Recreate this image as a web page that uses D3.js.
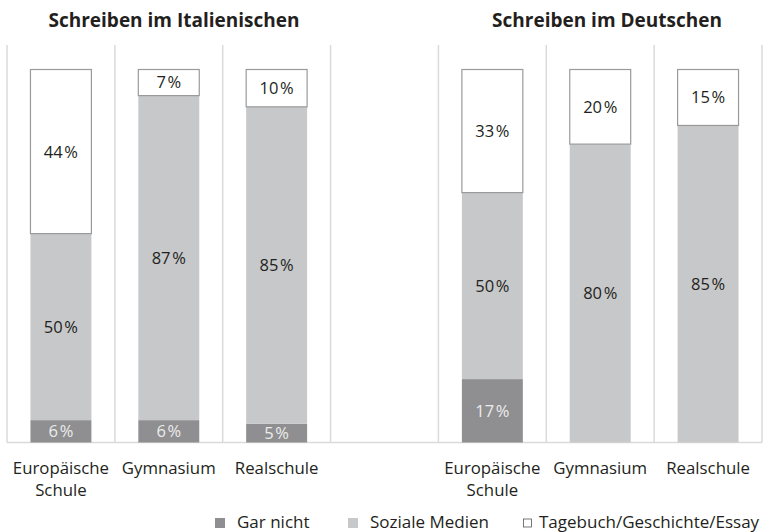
<!DOCTYPE html>
<html>
<head>
<meta charset="utf-8">
<script src="https://cdn.jsdelivr.net/npm/d3@7"></script>
<style>
  body { margin: 0; background: #fff; }
  text { font-family: "Open Sans", "Noto Sans", sans-serif; fill: #231f20; }
</style>
</head>
<body>
<svg id="chart" width="763" height="532"></svg>
<script>
/** data **/
var panels = ["Schreiben im Italienischen", "Schreiben im Deutschen"];
var schools = ["Europäische Schule", "Gymnasium", "Realschule"];
var series = ["Gar nicht", "Soziale Medien", "Tagebuch/Geschichte/Essay"];
// values per panel, per school: [gar nicht, soziale medien, tagebuch]
var italienisch = [[6, 50, 44], [6, 87, 7], [5, 85, 10]];
var deutsch = [[17, 50, 33], [0, 80, 20], [0, 85, 15]];

var colors = ["#8f8f91", "#c7c8ca", "#ffffff"];
var labelColors = ["#ececec", "#231f20", "#231f20"];

var svg = d3.select("#chart");

// 7 columns: 3 italian, gap, 3 german
var cols = ["it0", "it1", "it2", "gap", "de0", "de1", "de2"];
var x = d3.scaleBand().domain(cols).range([7, 762]).padding(0);
var y = d3.scaleLinear().domain([0, 100]).range([442.5, 69.5]);
var barW = x.bandwidth() * 0.565;

// build rows
var rows = [];
[italienisch, deutsch].forEach(function(p, pi) {
  p.forEach(function(v, si) {
    var col = (pi == 0 ? "it" : "de") + si;
    var acc = 0;
    v.forEach(function(val, k) {
      rows.push({col: col, k: k, y0: acc, y1: acc + val, v: val});
      acc += val;
    });
  });
});

// grid lines
svg.selectAll("line.grid")
  .data(x.domain().map(function(d) { return x(d); }).concat([762]))
  .enter().append("line")
  .attr("x1", function(d) { return d; })
  .attr("x2", function(d) { return d; })
  .attr("y1", 45).attr("y2", y(0))
  .attr("stroke", "#dadada").attr("stroke-width", 1.5);

svg.append("line")
  .attr("x1", 7).attr("x2", 762)
  .attr("y1", y(0)).attr("y2", y(0))
  .attr("stroke", "#dadada").attr("stroke-width", 1.5);

// bars
var segs = rows.filter(function(d) { return d.v > 0; });
svg.selectAll("rect.seg")
  .data(segs)
  .enter().append("rect")
  .attr("x", function(d) { return x(d.col) + (x.bandwidth() - barW) / 2; })
  .attr("y", function(d) { return y(d.y1); })
  .attr("width", barW)
  .attr("height", function(d) { return y(d.y0) - y(d.y1); })
  .attr("fill", function(d) { return colors[d.k]; })
  .attr("stroke", function(d) { return d.k == 2 ? "#9a9a9a" : "none"; })
  .attr("stroke-width", 1.2);

svg.selectAll("text.val")
  .data(segs)
  .enter().append("text")
  .attr("x", function(d) { return x(d.col) + x.bandwidth() / 2; })
  .attr("y", function(d) { return (y(d.y0) + y(d.y1)) / 2; })
  .attr("dy", "0.36em")
  .attr("text-anchor", "middle")
  .style("font-size", "16.5px")
  .style("fill", function(d) { return labelColors[d.k]; })
  .text(function(d) { return d.v + "\u200a%"; });

// titles
svg.selectAll("text.title")
  .data(panels)
  .enter().append("text")
  .attr("x", function(d, i) { return i == 0 ? 174 : 607; })
  .attr("y", 27)
  .attr("text-anchor", "middle")
  .style("font-size", "19px")
  .style("font-weight", "bold")
  .text(function(d) { return d; });

// category labels
["it", "de"].forEach(function(p) {
  schools.forEach(function(s, i) {
    var t = svg.append("text")
      .attr("x", x(p + i) + x.bandwidth() / 2)
      .attr("y", 474)
      .attr("text-anchor", "middle")
      .style("font-size", "16.8px");
    s.split(" ").forEach(function(w, j) {
      t.append("tspan")
        .attr("x", x(p + i) + x.bandwidth() / 2)
        .attr("dy", j == 0 ? 0 : 22)
        .text(w);
    });
  });
});

// legend
var legX = [215, 348, 523];
var leg = svg.selectAll("g.leg")
  .data(series)
  .enter().append("g")
  .attr("transform", function(d, i) { return "translate(" + legX[i] + ",518)"; });
leg.append("rect")
  .attr("x", function(d, i) { return i == 2 ? 0.5 : 0; })
  .attr("y", function(d, i) { return i == 2 ? 1 : 0; })
  .attr("width", function(d, i) { return i == 2 ? 8 : 10; })
  .attr("height", function(d, i) { return i == 2 ? 8 : 10; })
  .attr("fill", function(d, i) { return colors[i]; })
  .attr("stroke", function(d, i) { return i == 2 ? "#555" : "none"; })
  .attr("stroke-width", 0.8);
leg.append("text")
  .attr("x", function(d, i) { return i == 2 ? 16 : 22; })
  .attr("y", 10)
  .style("font-size", "17px")
  .text(function(d) { return d; });
</script>
</body>
</html>
